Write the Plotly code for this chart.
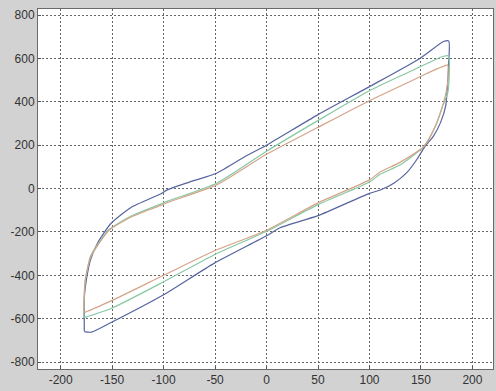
import plotly.graph_objects as go

# Blue (outer) loop
blue_x = [-177, -177, -175, -171, -164, -151, -132, -103, -96, -75, -48, -20, 0, 50, 100, 149, 172, 177,
          177, 176, 174, 169, 162, 154, 146, 136, 124, 110, 100, 50, 13, 0, -51, -100, -151, -170, -177]
blue_y = [-658, -500, -420, -328, -250, -160, -88, -25, -5, 30, 72, 150, 200, 341, 470, 600, 678, 680,
          580, 490, 380, 304, 241, 195, 134, 72, 26, -8, -22, -125, -181, -218, -345, -490, -618, -662, -660]

# Green (middle) loop
green_x = [-177, -177, -176, -171, -163, -153, -132, -104, -96, -48, 0, 49, 99, 140, 150, 172, 177,
           177, 176, 171, 164, 153, 130, 110, 100, 50, 0, -51, -100, -151, -174, -177]
green_y = [-594, -500, -420, -312, -250, -189, -128, -74, -58, 26, 172, 311, 449, 541, 564, 610, 612,
           480, 440, 380, 287, 195, 110, 65, 30, -74, -197, -306, -430, -553, -590, -594]

# Orange (inner) loop
orange_x = [-177, -177, -176, -171, -163, -153, -132, -104, -96, -48, 0, 49, 99, 140, 150, 174, 176,
            176, 171, 164, 153, 130, 110, 100, 50, 0, -51, -100, -151, -174, -177]
orange_y = [-570, -480, -420, -318, -255, -192, -132, -80, -64, 18, 158, 280, 403, 495, 518, 568, 570,
            490, 380, 287, 195, 122, 75, 40, -66, -192, -288, -400, -518, -566, -570]

x_ticks = [-200, -150, -100, -50, 0, 50, 100, 150, 200]
y_ticks = [-800, -600, -400, -200, 0, 200, 400, 600, 800]

fig = go.Figure()
for xs, ys, col in [(blue_x, blue_y, "#56649f"),
                    (green_x, green_y, "#86c8a4"),
                    (orange_x, orange_y, "#d4a488")]:
    fig.add_trace(go.Scatter(x=xs, y=ys, mode="lines",
                             line=dict(color=col, width=1.2, shape="spline", smoothing=0.6),
                             showlegend=False, hoverinfo="skip"))

axis_common = dict(showgrid=True, gridcolor="#666666", griddash="2px,2px", gridwidth=1,
                   zeroline=False, showline=True, linecolor="#6a6a6a", linewidth=1, mirror=True,
                   ticks="inside", ticklen=3, tickcolor="#555555", automargin=False,
                   tickfont=dict(family="Liberation Sans, Arial", size=12, color="#333333"))

fig.update_xaxes(range=[-222, 220], tickvals=x_ticks, ticktext=[str(v) for v in x_ticks], **axis_common)
fig.update_yaxes(range=[-832, 828], tickvals=y_ticks, ticktext=[str(v) for v in y_ticks], **axis_common)

fig.update_layout(width=496, height=391,
                  margin=dict(l=38, r=3, t=9, b=22, autoexpand=False),
                  paper_bgcolor="#d2d2d2", plot_bgcolor="#ffffff")

fig.write_html("out.html", config={"displayModeBar": False},
               post_script="document.body.style.margin='0';document.body.style.background='#d2d2d2';")
